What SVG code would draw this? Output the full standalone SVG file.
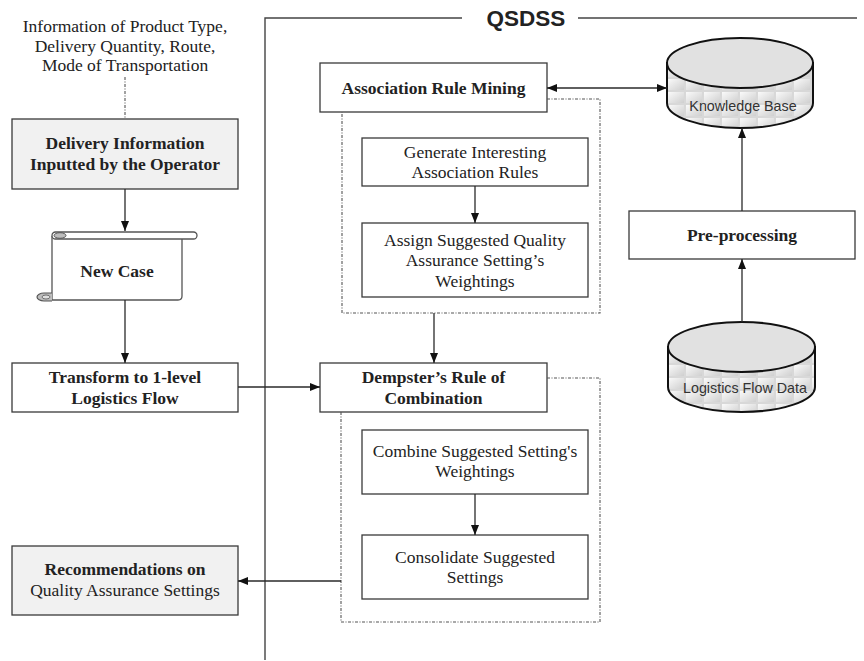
<svg xmlns="http://www.w3.org/2000/svg" width="864" height="661" viewBox="0 0 864 661">
<style>
.bx{fill:#fff;stroke:#3a3a3a;stroke-width:1.3}
.gb{fill:#f1f1f1;stroke:#3a3a3a;stroke-width:1.3}
.t{font-family:"Liberation Serif","Times New Roman",serif;font-size:17.5px;fill:#222;text-anchor:middle}
.b{font-weight:bold}
.s{font-family:"Liberation Sans",Arial,sans-serif;font-size:14.3px;fill:#333;text-anchor:middle}
.ln{fill:none;stroke:#2a2a2a;stroke-width:1.3}
.ds{fill:none;stroke:#555;stroke-width:1.1;stroke-dasharray:3 1.5 1 1.5}
.fr{fill:none;stroke:#444;stroke-width:1.4}
.cyl{stroke:#111;stroke-width:2}
</style>
<defs>
<marker id="ah" markerWidth="10" markerHeight="8" refX="10" refY="4" orient="auto" markerUnits="userSpaceOnUse">
<path d="M0,0 L10,4 L0,8 Z" fill="#111"/>
</marker>
<marker id="as" markerWidth="10" markerHeight="8" refX="0" refY="4" orient="auto" markerUnits="userSpaceOnUse">
<path d="M10,0 L0,4 L10,8 Z" fill="#111"/>
</marker>
<linearGradient id="tg" x1="0" y1="0" x2="1" y2="1">
<stop offset="0" stop-color="#fafafa"/>
<stop offset="1" stop-color="#cfcfcf"/>
</linearGradient>
<pattern id="tile" width="18" height="13" patternUnits="userSpaceOnUse" x="667" y="0">
<rect width="18" height="13" fill="#d8d8d8"/>
<rect x="1" y="1" width="16" height="11" fill="url(#tg)"/>
</pattern>
</defs>

<g id="frame">
<path class="fr" d="M462,18 H265 V660"/>
<path class="fr" d="M578,18 H857"/>
<text x="526" y="26" font-family="Liberation Sans,Arial,sans-serif" font-size="22.5" font-weight="bold" fill="#222" text-anchor="middle">QSDSS</text>
</g>

<g id="input-info">
<text class="t" x="125" y="32">Information of Product Type,</text>
<text class="t" x="125" y="51.5">Delivery Quantity, Route,</text>
<text class="t" x="125" y="71">Mode of Transportation</text>
</g>

<g id="delivery">
<rect class="gb" x="12" y="119" width="226" height="70"/>
<text class="t b" x="125" y="149">Delivery Information</text>
<text class="t b" x="125" y="170">Inputted by the Operator</text>
</g>

<g id="new-case">
<path d="M52,236 V300 H178 Q182,300 182,296 V239" fill="#fff" stroke="#555" stroke-width="1.3"/>
<rect x="52" y="232" width="145" height="7" rx="3.5" fill="#fff" stroke="#555" stroke-width="1.3"/>
<ellipse cx="60" cy="235.5" rx="6" ry="2.8" fill="#bdbdbd" stroke="#555" stroke-width="1"/>
<path d="M52,293 H44 A7,4 0 0 0 44,301 H52" fill="#bdbdbd" stroke="#555" stroke-width="1.2"/>
<ellipse cx="46" cy="297" rx="4" ry="2" fill="#e0e0e0" stroke="#555" stroke-width="0.8"/>
<text class="t b" x="117" y="276.5">New Case</text>
</g>

<g id="transform">
<rect class="bx" x="12" y="363" width="226" height="49"/>
<text class="t b" x="125" y="383">Transform to 1-level</text>
<text class="t b" x="125" y="404">Logistics Flow</text>
</g>

<g id="recommendations">
<rect class="gb" x="12" y="546" width="226" height="69"/>
<text class="t b" x="125" y="575">Recommendations on</text>
<text class="t" x="125" y="596">Quality Assurance Settings</text>
</g>

<g id="arm">
<rect class="bx" x="320" y="63" width="227" height="49"/>
<text class="t b" x="433.5" y="93.5">Association Rule Mining</text>
</g>

<g id="generate">
<rect class="bx" x="362" y="138" width="226" height="48"/>
<text class="t" x="475" y="158">Generate Interesting</text>
<text class="t" x="475" y="178">Association Rules</text>
</g>

<g id="assign">
<rect class="bx" x="362" y="223" width="226" height="74"/>
<text class="t" x="475" y="245.5">Assign Suggested Quality</text>
<text class="t" x="475" y="266">Assurance Setting’s</text>
<text class="t" x="475" y="286.5">Weightings</text>
</g>

<g id="dempster">
<rect class="bx" x="320" y="363" width="227" height="49"/>
<text class="t b" x="433.5" y="383">Dempster’s Rule of</text>
<text class="t b" x="433.5" y="404">Combination</text>
</g>

<g id="combine">
<rect class="bx" x="362" y="430" width="226" height="64"/>
<text class="t" x="475" y="457">Combine Suggested Setting's</text>
<text class="t" x="475" y="477">Weightings</text>
</g>

<g id="consolidate">
<rect class="bx" x="362" y="535" width="226" height="64"/>
<text class="t" x="475" y="562.5">Consolidate Suggested</text>
<text class="t" x="475" y="583">Settings</text>
</g>

<g id="knowledge-base">
<path class="cyl" d="M667,63 V103 A73,25 0 0 0 813,103 V63 Z" fill="url(#tile)"/>
<ellipse class="cyl" cx="740" cy="63" rx="73" ry="25" fill="#e1e1e1"/>
<text class="s" x="743" y="111">Knowledge Base</text>
</g>

<g id="preprocessing">
<rect class="bx" x="629" y="211" width="226" height="48"/>
<text class="t b" x="742" y="241">Pre-processing</text>
</g>

<g id="logistics-data">
<path class="cyl" d="M668,347 V387 A73.5,25 0 0 0 815,387 V347 Z" fill="url(#tile)"/>
<ellipse class="cyl" cx="741.5" cy="347" rx="73.5" ry="25" fill="#e1e1e1"/>
<text class="s" x="745" y="393">Logistics Flow Data</text>
</g>

<g id="connectors">
<path class="ds" d="M125,77 V119"/>
<path class="ln" d="M125,189 V231" marker-end="url(#ah)"/>
<path class="ln" d="M125,300 V363" marker-end="url(#ah)"/>
<path class="ln" d="M238,387 H320" marker-end="url(#ah)"/>
<path class="ln" d="M547,88 H667" marker-start="url(#as)" marker-end="url(#ah)"/>
<path class="ds" d="M547,99 H600 V313 H342 V112"/>
<path class="ln" d="M475,186 V223" marker-end="url(#ah)"/>
<path class="ln" d="M434,313 V363" marker-end="url(#ah)"/>
<path class="ds" d="M547,378 H600 V622 H341 V412"/>
<path class="ln" d="M475,494 V535" marker-end="url(#ah)"/>
<path class="ln" d="M341,581 H238" marker-end="url(#ah)"/>
<path class="ln" d="M742,211 V128" marker-end="url(#ah)"/>
<path class="ln" d="M742,322 V259" marker-end="url(#ah)"/>
</g>
</svg>
